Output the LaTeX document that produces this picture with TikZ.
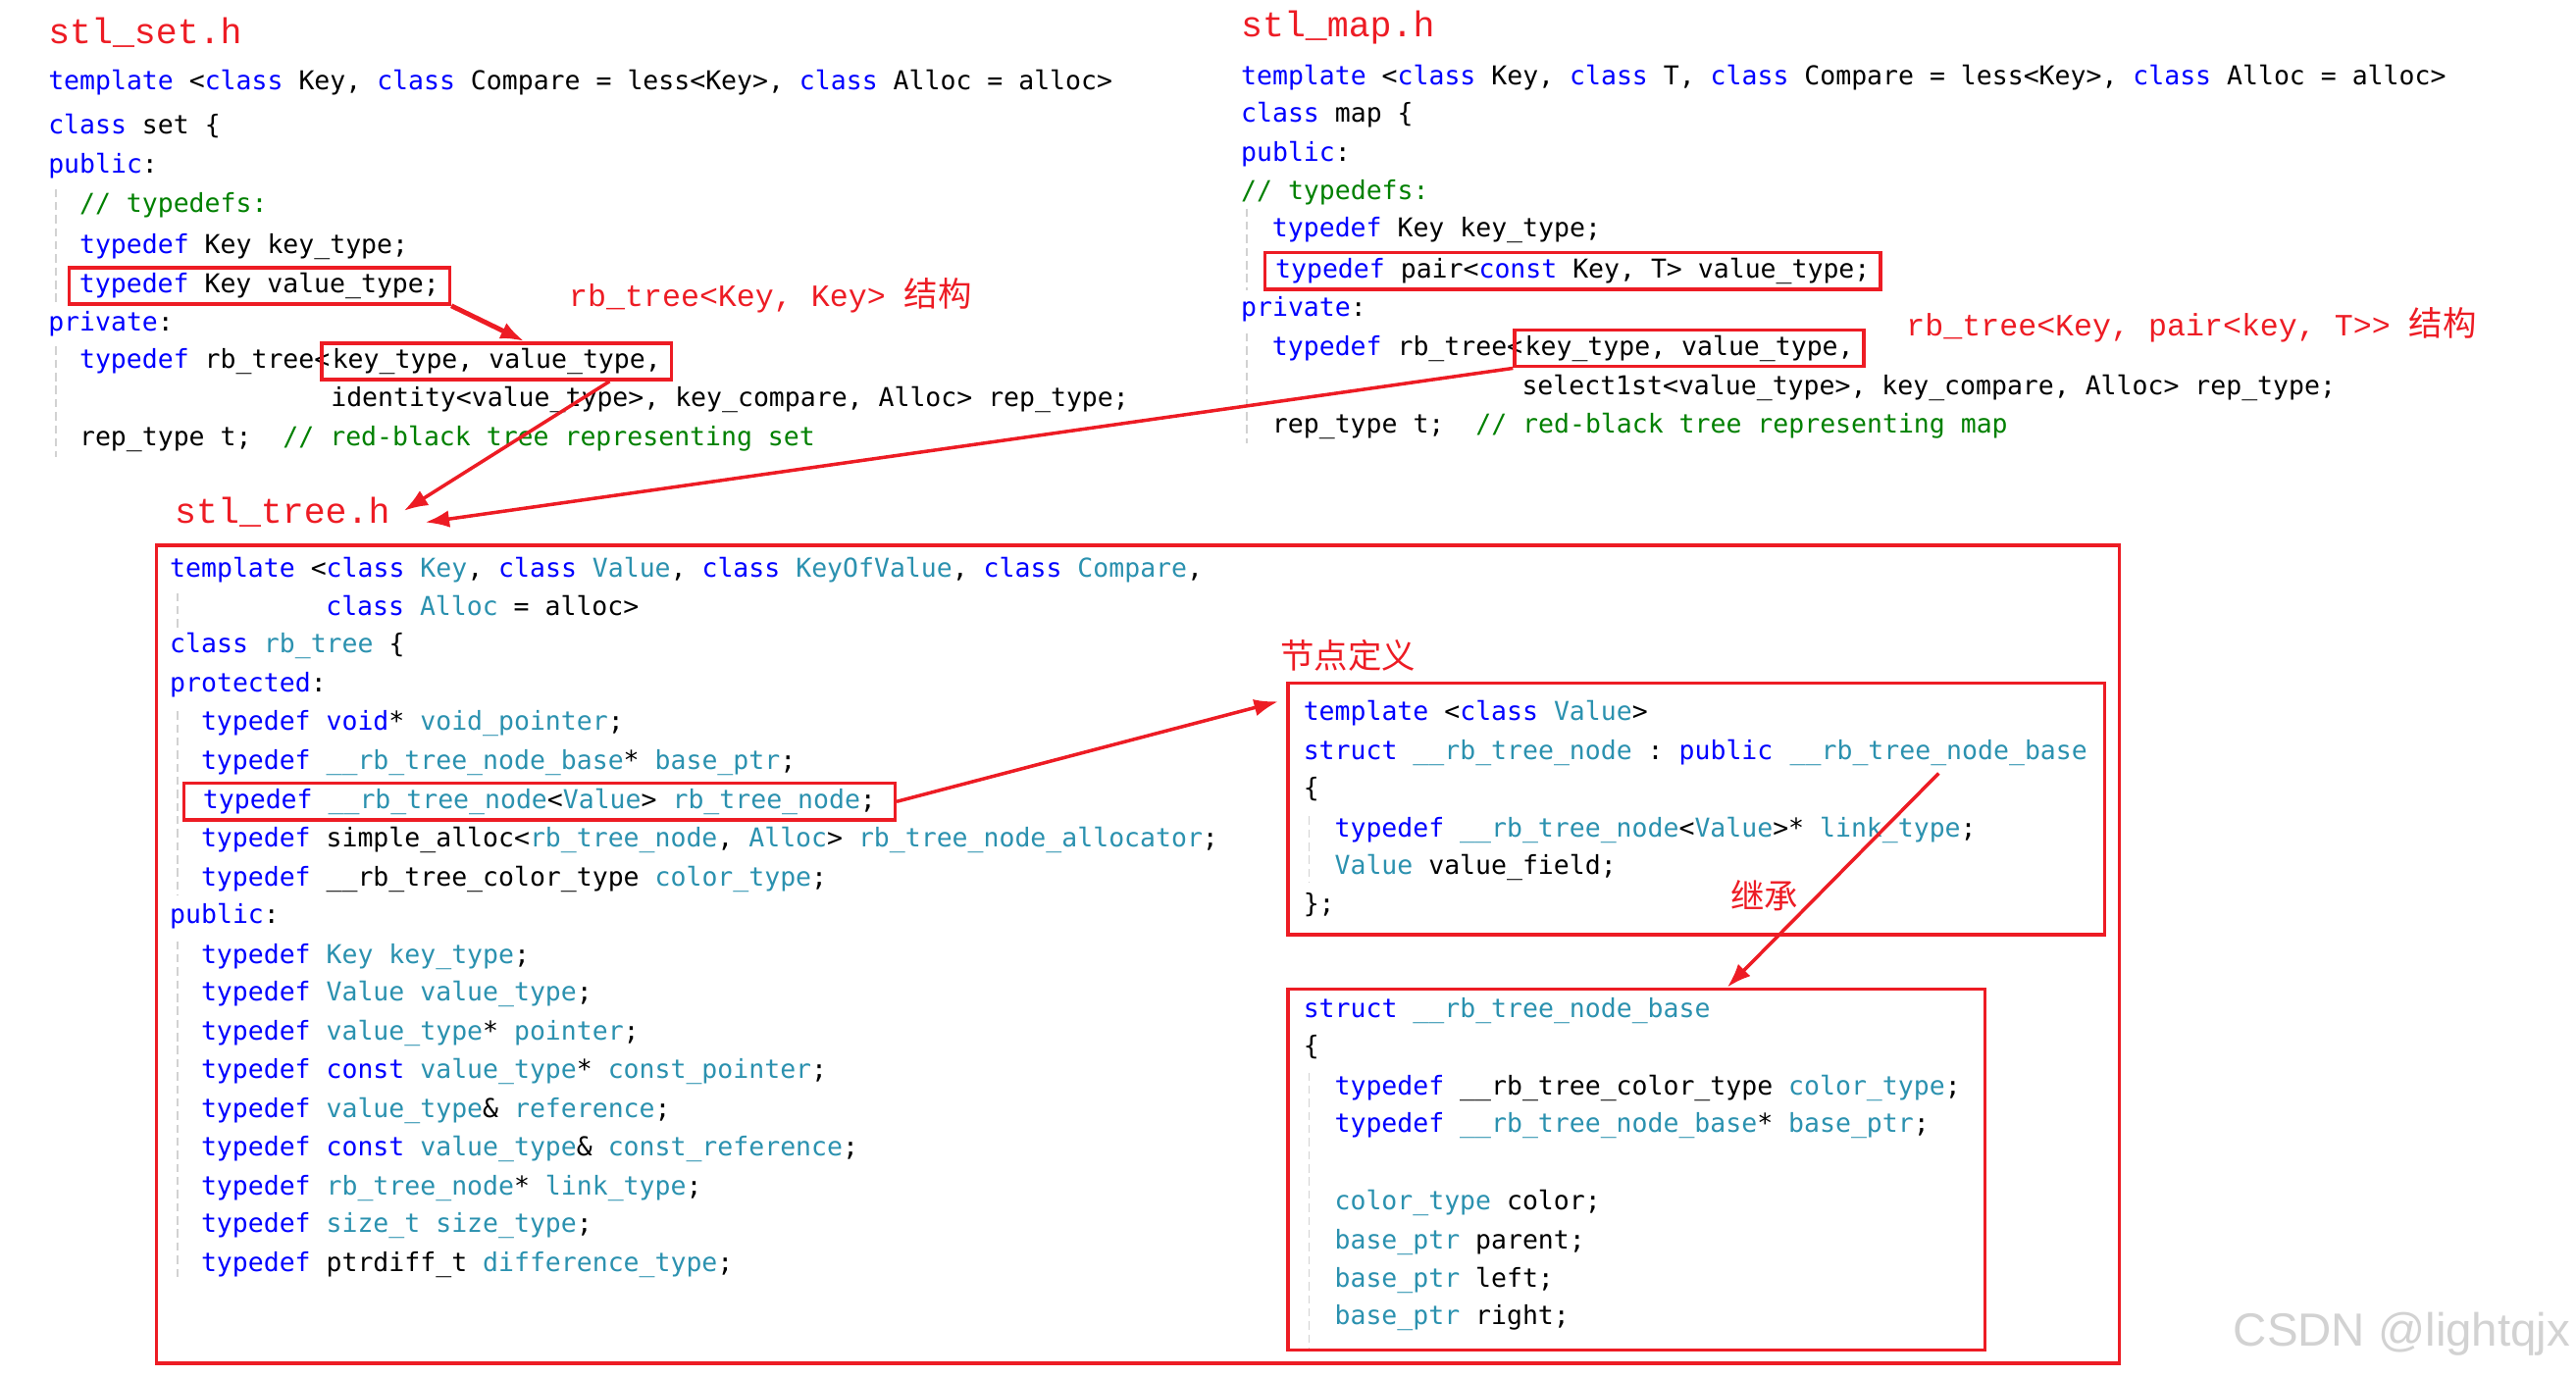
\documentclass[tikz,border=0pt]{standalone}
\usepackage{fontspec}
\setmonofont{DejaVu Sans Mono}
\newfontfamily\redfont{Liberation Mono}
\newfontfamily\cjkfont{Noto Sans CJK SC}
\newfontfamily\markfont{Liberation Sans}
\usetikzlibrary{positioning, fit, calc, arrows.meta}

\definecolor{kwblue}{RGB}{0,0,255}
\definecolor{tyteal}{RGB}{43,145,175}
\definecolor{cmgreen}{RGB}{0,128,0}
\definecolor{boxred}{RGB}{237,28,36}

\newcommand{\kwd}[1]{\textcolor{kwblue}{#1}}
\newcommand{\typ}[1]{\textcolor{tyteal}{#1}}
\newcommand{\cmt}[1]{\textcolor{cmgreen}{#1}}
\newcommand{\codefont}{\fontsize{7.54}{11}\selectfont\ttfamily}
\newcommand{\titlefont}{\fontsize{10.4}{12}\selectfont\redfont}
\newcommand{\notefont}{\fontsize{9}{12}\selectfont\redfont}
\newcommand{\zh}[1]{{\cjkfont\fontsize{9.8}{12}\selectfont #1}}

\tikzset{
  code/.style={font=\codefont, anchor=west, inner sep=0pt, text height=6pt, text depth=1.8pt},
  hl/.style={code, draw=boxred, line width=1pt, inner xsep=3pt, inner ysep=1.4pt},
  title/.style={font=\titlefont, text=boxred, anchor=west, inner sep=0pt},
  note/.style={font=\notefont, text=boxred, anchor=west, inner sep=0pt},
  redbox/.style={draw=boxred, line width=0.9pt, inner sep=0pt},
  guide/.style={draw=gray!35, line width=0.4pt, dash pattern=on 2.4pt off 1.4pt},
  link/.style={->, draw=boxred, line width=1pt}
}

\begin{document}
\begin{tikzpicture}[x=0.1675mm, y=-0.1675mm, >={Latex[length=7pt, width=5pt]}]
    % 1. Vùng hiển thị
    \useasboundingbox (0,0) rectangle (1568,838);

    % 2. stl_set.h
    \node[title] (setT) at (29,20) {stl\_set.h};
    \node[code] (set1) at (29,50) {\kwd{template} <\kwd{class} Key, \kwd{class} Compare = less<Key>, \kwd{class} Alloc = alloc>};
    \node[code] (set2) at (29,77) {\kwd{class} set \{};
    \node[code] (set3) at (29,101) {\kwd{public}:};
    \node[code] (set4) at (48,125) {\cmt{// typedefs:}};
    \node[code] (set5) at (48,150) {\kwd{typedef} Key key\_type;};
    \node[hl] (setVT) at (41,174) {\kwd{typedef} Key value\_type;};
    \node[code] (set6) at (29,197) {\kwd{private}:};
    \node[code] (set7) at (48,220) {\kwd{typedef} rb\_tree<};
    \node[hl, right=-3pt of set7] (setRB) {key\_type, value\_type,};
    \node[code] (set8) at (201,243) {identity<value\_type>, key\_compare, Alloc> rep\_type;};
    \node[code] (set9) at (48,267) {rep\_type t;\ \ \cmt{// red-black tree representing set}};
    \node[note] (setL) at (346,180) {rb\_tree<Key, Key> \zh{结构}};
    \draw[guide] (34,115) -- (34,186);
    \draw[guide] (34,211) -- (34,278);

    % 3. stl_map.h
    \node[title] (mapT) at (755,17) {stl\_map.h};
    \node[code] (map1) at (755,47) {\kwd{template} <\kwd{class} Key, \kwd{class} T, \kwd{class} Compare = less<Key>, \kwd{class} Alloc = alloc>};
    \node[code] (map2) at (755,70) {\kwd{class} map \{};
    \node[code] (map3) at (755,94) {\kwd{public}:};
    \node[code] (map4) at (755,117) {\cmt{// typedefs:}};
    \node[code] (map5) at (774,140) {\kwd{typedef} Key key\_type;};
    \node[hl] (mapVT) at (769,165) {\kwd{typedef} pair<\kwd{const} Key, T> value\_type;};
    \node[code] (map6) at (755,188) {\kwd{private}:};
    \node[code] (map7) at (774,212) {\kwd{typedef} rb\_tree<};
    \node[hl, right=-3pt of map7] (mapRB) {key\_type, value\_type,};
    \node[code] (map8) at (926,236) {select1st<value\_type>, key\_compare, Alloc> rep\_type;};
    \node[code] (map9) at (774,259) {rep\_type t;\ \ \cmt{// red-black tree representing map}};
    \node[note] (mapL) at (1160,198) {rb\_tree<Key, pair<key, T>> \zh{结构}};
    \draw[guide] (759,127) -- (759,177);
    \draw[guide] (759,203) -- (759,270);

    % 4. stl_tree.h
    \node[title] (treeT) at (106,312) {stl\_tree.h};
    \node[redbox, fit={(95,332) (1290,830)}] (treebox) {};
    \node[code] (tree1) at (103,347) {\kwd{template} <\kwd{class} \typ{Key}, \kwd{class} \typ{Value}, \kwd{class} \typ{KeyOfValue}, \kwd{class} \typ{Compare},};
    \node[code] (tree2) at (198,370) {\kwd{class} \typ{Alloc} = alloc>};
    \node[code] (tree3) at (103,393) {\kwd{class} \typ{rb\_tree} \{};
    \node[code] (tree4) at (103,417) {\kwd{protected}:};
    \node[code] (tree5) at (122,440) {\kwd{typedef} \kwd{void}* \typ{void\_pointer};};
    \node[code] (tree6) at (122,464) {\kwd{typedef} \typ{\_\_rb\_tree\_node\_base}* \typ{base\_ptr};};
    \node[hl, inner xsep=5.5pt] (treeRBN) at (111,488) {\kwd{typedef} \typ{\_\_rb\_tree\_node}<\typ{Value}> \typ{rb\_tree\_node};};
    \node[code] (tree7) at (122,511) {\kwd{typedef} simple\_alloc<\typ{rb\_tree\_node}, \typ{Alloc}> \typ{rb\_tree\_node\_allocator};};
    \node[code] (tree8) at (122,535) {\kwd{typedef} \_\_rb\_tree\_color\_type \typ{color\_type};};
    \node[code] (tree9) at (103,558) {\kwd{public}:};
    \node[code] (tree10) at (122,582) {\kwd{typedef} \typ{Key} \typ{key\_type};};
    \node[code] (tree11) at (122,605) {\kwd{typedef} \typ{Value} \typ{value\_type};};
    \node[code] (tree12) at (122,629) {\kwd{typedef} \typ{value\_type}* \typ{pointer};};
    \node[code] (tree13) at (122,652) {\kwd{typedef} \kwd{const} \typ{value\_type}* \typ{const\_pointer};};
    \node[code] (tree14) at (122,676) {\kwd{typedef} \typ{value\_type}\& \typ{reference};};
    \node[code] (tree15) at (122,699) {\kwd{typedef} \kwd{const} \typ{value\_type}\& \typ{const\_reference};};
    \node[code] (tree16) at (122,723) {\kwd{typedef} \typ{rb\_tree\_node}* \typ{link\_type};};
    \node[code] (tree17) at (122,746) {\kwd{typedef} \typ{size\_t} \typ{size\_type};};
    \node[code] (tree18) at (122,770) {\kwd{typedef} ptrdiff\_t \typ{difference\_type};};
    \draw[guide] (108,361) -- (108,382);
    \draw[guide] (108,433) -- (108,545);
    \draw[guide] (108,573) -- (108,780);

    % 5. Định nghĩa nút __rb_tree_node
    \node[note] (ndL) at (779,399) {\zh{节点定义}};
    \node[redbox, fit={(784,416) (1281,569)}] (nodebox) {};
    \node[code] (nd1) at (793,434) {\kwd{template} <\kwd{class} \typ{Value}>};
    \node[code] (nd2) at (793,458) {\kwd{struct} \typ{\_\_rb\_tree\_node} : \kwd{public}};
    \node[code, right=4.54pt of nd2] (ndBase) {\typ{\_\_rb\_tree\_node\_base}};
    \node[code] (nd3) at (793,481) {\{};
    \node[code] (nd4) at (812,505) {\kwd{typedef} \typ{\_\_rb\_tree\_node}<\typ{Value}>* \typ{link\_type};};
    \node[code] (nd5) at (812,528) {\typ{Value} value\_field;};
    \node[code] (nd6) at (793,551) {\};};
    \node[note] (inhL) at (1053,545) {\zh{继承}};
    \draw[guide] (797,497) -- (797,537);

    % 6. Nút gốc __rb_tree_node_base
    \node[redbox, fit={(784,602) (1208,822)}] (basebox) {};
    \node[code] (bs1) at (793,615) {\kwd{struct} \typ{\_\_rb\_tree\_node\_base}};
    \node[code] (bs2) at (793,638) {\{};
    \node[code] (bs3) at (812,662) {\kwd{typedef} \_\_rb\_tree\_color\_type \typ{color\_type};};
    \node[code] (bs4) at (812,685) {\kwd{typedef} \typ{\_\_rb\_tree\_node\_base}* \typ{base\_ptr};};
    \node[code] (bs5) at (812,732) {\typ{color\_type} color;};
    \node[code] (bs6) at (812,756) {\typ{base\_ptr} parent;};
    \node[code] (bs7) at (812,779) {\typ{base\_ptr} left;};
    \node[code] (bs8) at (812,802) {\typ{base\_ptr} right;};
    \draw[guide] (797,653) -- (797,821);

    % 7. Các mũi tên liên kết
    \draw[link, line width=1.4pt] (setVT.south east) -- ($(setRB.north)+(17,0)$);
    \draw[link] ($(setRB.south west)!0.82!(setRB.south east)$) -- ($(treeT.east)+(8,-1)$);
    \draw[link] (mapRB.south west) -- ($(treeT.east)+(21,6)$);
    \draw[link] (treeRBN.east) -- ($(nodebox.north west)+(-5,12)$);
    \draw[link] ([yshift=-2pt]ndBase.south) -- ($(basebox.north west)!0.63!(basebox.north east)$);

    % 8. Watermark
    \node[font=\markfont\fontsize{13.5}{15}\selectfont, text=gray!35] (mark) at (1462,812) {CSDN @lightqjx};
\end{tikzpicture}
\end{document}
